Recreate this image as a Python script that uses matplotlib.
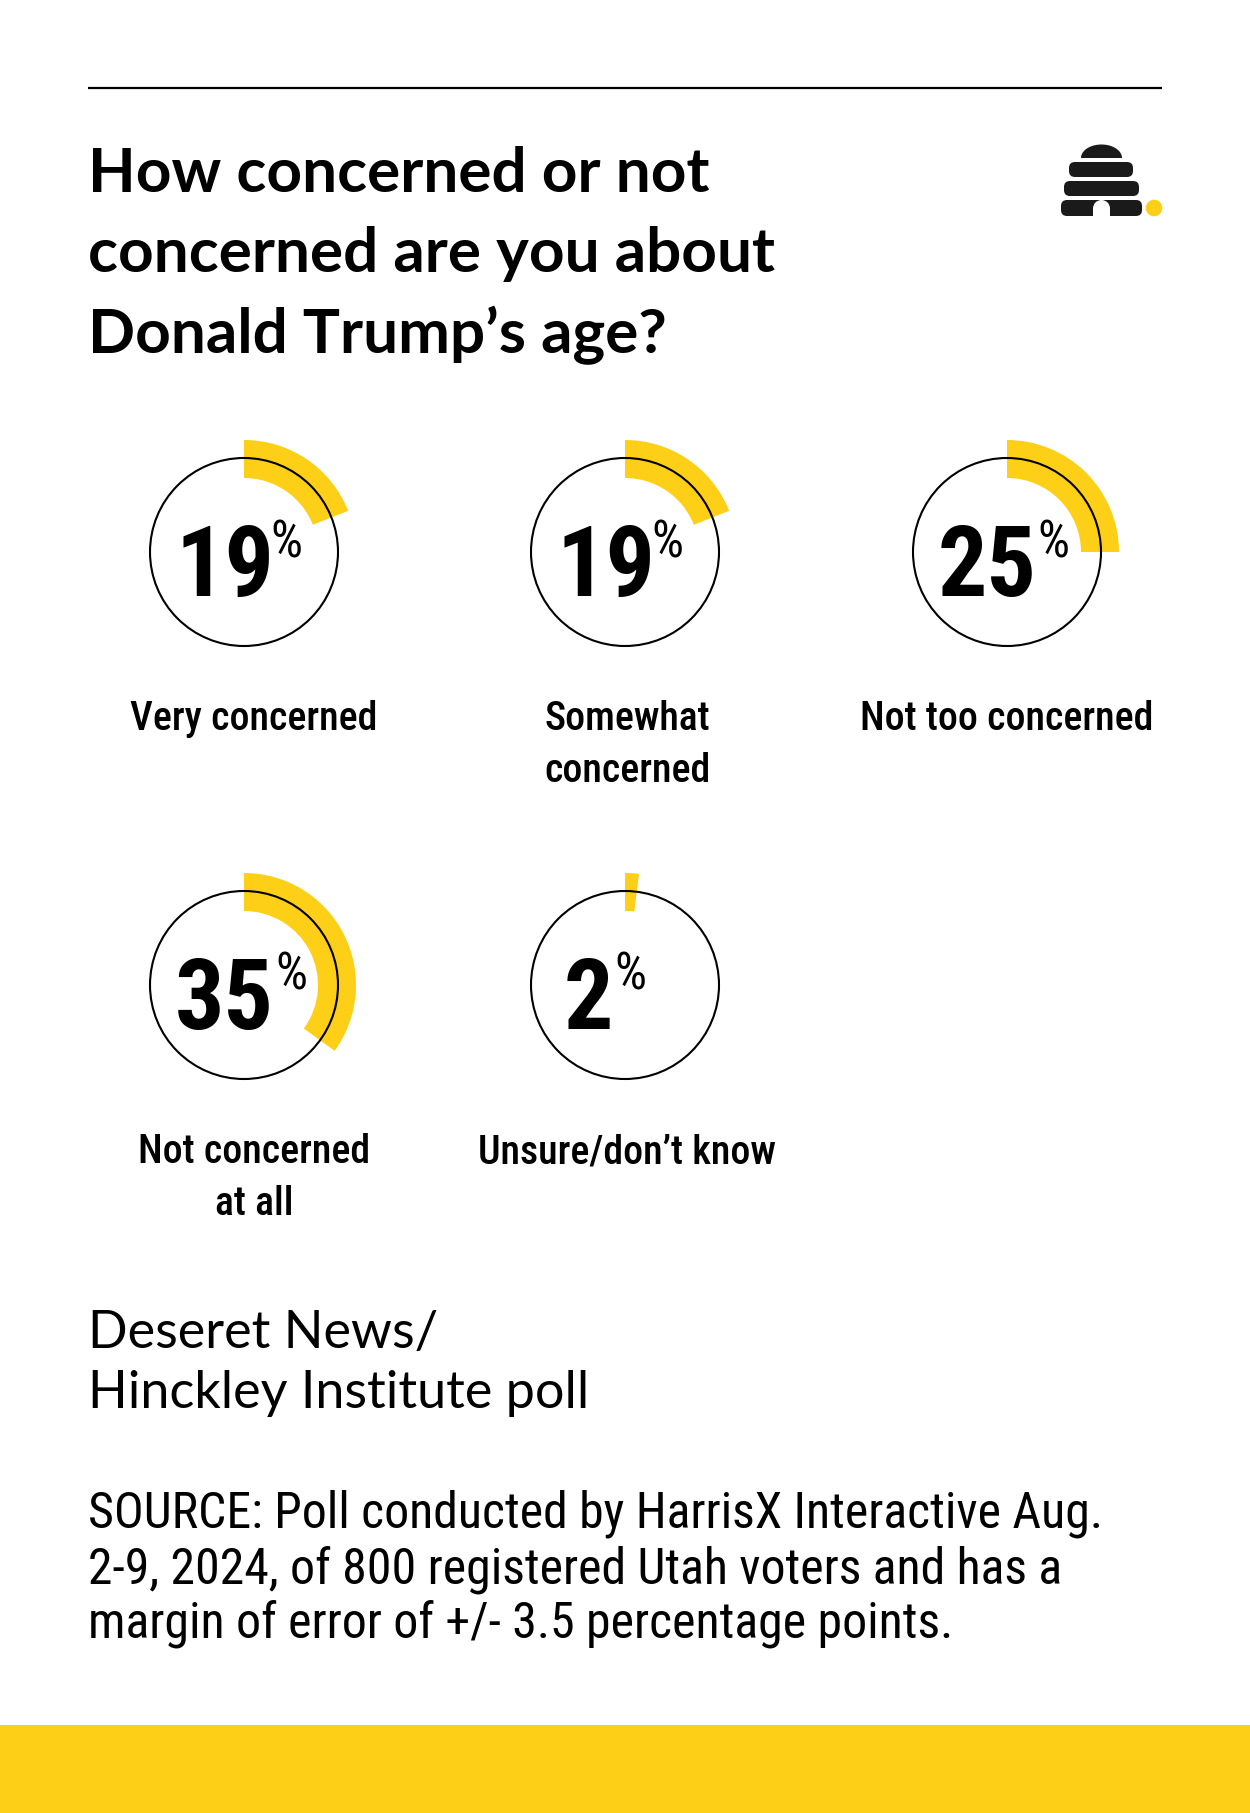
import os
import numpy as np
import matplotlib
matplotlib.use("Agg")
import matplotlib.pyplot as plt
from matplotlib import font_manager as fm
from matplotlib.font_manager import FontProperties
from matplotlib.textpath import TextPath
from matplotlib.patches import Circle, Wedge, Rectangle, FancyBboxPatch, Polygon

# ---------------- data ----------------
title_lines = ["How concerned or not", "concerned are you about", "Donald Trump\u2019s age?"]
categories = [["Very concerned"], ["Somewhat", "concerned"], ["Not too concerned"],
              ["Not concerned", "at all"], ["Unsure/don\u2019t know"]]
values = [19, 19, 25, 35, 2]
credit_lines = ["Deseret News/", "Hinckley Institute poll"]
source_lines = ["SOURCE: Poll conducted by HarrisX Interactive Aug.",
                "2-9, 2024, of 800 registered Utah voters and has a",
                "margin of error of +/- 3.5 percentage points."]

# ---------------- style / layout ----------------
YELLOW = "#FDCF17"
W, H = 1250, 1813
col_x = [244, 625, 1007]
label_x = [254, 627, 1007]
row_y = [552, 985]
R = 94

fig = plt.figure(figsize=(12.5, 18.13), dpi=100)
ax = fig.add_axes([0, 0, 1, 1])
ax.set_xlim(0, W)
ax.set_ylim(H, 0)
ax.axis("off")

# ---------------- fonts ----------------
_files = {}
try:
    for f in fm.findSystemFonts():
        _files.setdefault(os.path.basename(f).lower(), f)
except Exception:
    pass
for f in fm.fontManager.ttflist:
    _files.setdefault(os.path.basename(f.fname).lower(), f.fname)


def pick(names, family, weight="normal"):
    for n in names:
        p = _files.get(n.lower())
        if p:
            return FontProperties(fname=p)
    return FontProperties(family=family, weight=weight)


f_title = pick(["Lato-Bold.ttf", "Roboto-Medium.ttf", "Roboto-Bold.ttf"], "DejaVu Sans", "bold")
f_credit = pick(["Lato-Regular.ttf", "Roboto-Regular.ttf"], "DejaVu Sans")
f_num = pick(["NotoSans-ExtraCondensedBold.ttf", "NotoSans-CondensedBold.ttf",
              "RobotoCondensed-Bold.ttf", "LiberationSansNarrow-Bold.ttf",
              "DejaVuSansCondensed-Bold.ttf"], "DejaVu Sans", "bold")
f_label = pick(["NotoSans-ExtraCondensedSemiBold.ttf", "NotoSans-CondensedSemiBold.ttf",
                "NotoSans-CondensedBold.ttf", "RobotoCondensed-Medium.ttf",
                "RobotoCondensed-Bold.ttf", "LiberationSansNarrow-Bold.ttf",
                "DejaVuSansCondensed-Bold.ttf"], "DejaVu Sans", "bold")
f_pct = pick(["NotoSans-ExtraCondensed.ttf", "NotoSans-Condensed.ttf",
              "RobotoCondensed-Regular.ttf", "LiberationSansNarrow-Regular.ttf",
              "DejaVuSansCondensed.ttf"], "DejaVu Sans")
f_source = pick(["NotoSans-Condensed.ttf", "RobotoCondensed-Regular.ttf",
                 "LiberationSansNarrow-Regular.ttf", "DejaVuSansCondensed.ttf"], "DejaVu Sans")


def ink(s, prop):
    p = prop.copy()
    p.set_size(100)
    e = TextPath((0, 0), s, size=100, prop=p).get_extents()
    return e.width / 100.0, e.height / 100.0


def size_for_width(s, prop, px):
    return px * 72.0 / (100.0 * ink(s, prop)[0])


def size_for_height(s, prop, px):
    return px * 72.0 / (100.0 * ink(s, prop)[1])


def txt(x, y, s, prop, size, **kw):
    p = prop.copy()
    p.set_size(size)
    kw.setdefault("va", "baseline")
    kw.setdefault("color", "black")
    return ax.text(x, y, s, fontproperties=p, **kw)


# ---------------- top rule ----------------
ax.plot([88, 1162], [88, 88], color="black", lw=1.6, solid_capstyle="butt")

# ---------------- title ----------------
s_title = size_for_width(title_lines[1], f_title, 684)
for i, line in enumerate(title_lines):
    txt(88, 192 + 80.5 * i, line, f_title, s_title, ha="left")

# ---------------- logo (beehive) ----------------
t = np.linspace(np.pi, 2 * np.pi, 60)
dome = np.column_stack([1101.5 + 20.5 * np.cos(t), 158 + 13.5 * np.sin(t)])
ax.add_patch(Polygon(np.vstack([dome, [[1122, 158], [1081, 158]]]), closed=True,
                     facecolor="#1a1a1a", edgecolor="none"))
for (x0, x1, y0, y1) in [(1069, 1133, 162, 177), (1064, 1139, 181, 196), (1061, 1142, 200, 216)]:
    ax.add_patch(FancyBboxPatch((x0, y0), x1 - x0, y1 - y0,
                                boxstyle="round,pad=0,rounding_size=6",
                                facecolor="#1a1a1a", edgecolor="none"))
ax.add_patch(Rectangle((1093, 208), 17, 9, facecolor="white", edgecolor="none"))
ax.add_patch(Wedge((1101.5, 208.5), 8.5, 180, 360, facecolor="white", edgecolor="none"))
ax.add_patch(Circle((1154, 208), 8.3, facecolor=YELLOW, edgecolor="none"))

# ---------------- donuts ----------------
s_num = 0.93 * size_for_height("0123456789", f_num, 77)
s_pct = size_for_height("%", f_pct, 37)
s_label = size_for_width(categories[0][0], f_label, 244)

for i, (v, lab) in enumerate(zip(values, categories)):
    cx = col_x[i % 3]
    cy = row_y[i // 3]
    lx = label_x[i % 3]
    ax.add_patch(Wedge((cx, cy), 112, -90, -90 + 360 * v / 100.0, width=38,
                       facecolor=YELLOW, edgecolor="none", zorder=2))
    ax.add_patch(Circle((cx, cy), R, facecolor="none", edgecolor="black", lw=1.5, zorder=3))
    ns = str(v)
    nw = ink(ns, f_num)[0] * s_num * 100.0 / 72.0
    nx = cx - 55 - 0.16 * nw
    txt(nx, cy + 44, ns, f_num, s_num, ha="left", zorder=4)
    txt(nx + nw + 9, cy + 5, "%", f_pct, s_pct, ha="left", zorder=4)
    base = cy + 178
    for j, line in enumerate(lab):
        txt(lx, base + 52 * j, line, f_label, s_label, ha="center")

# ---------------- credit & source ----------------
s_credit = size_for_width(credit_lines[1], f_credit, 492)
for i, line in enumerate(credit_lines):
    txt(88, 1348 + 60 * i, line, f_credit, s_credit, ha="left")

s_source = size_for_width(source_lines[0], f_source, 1008)
for i, line in enumerate(source_lines):
    txt(88, 1528 + 55 * i, line, f_source, s_source, ha="left")

# ---------------- bottom band ----------------
ax.add_patch(Rectangle((0, 1725), W, H - 1725, facecolor=YELLOW, edgecolor="none"))

fig.savefig("out.png", dpi=100, facecolor="white")
